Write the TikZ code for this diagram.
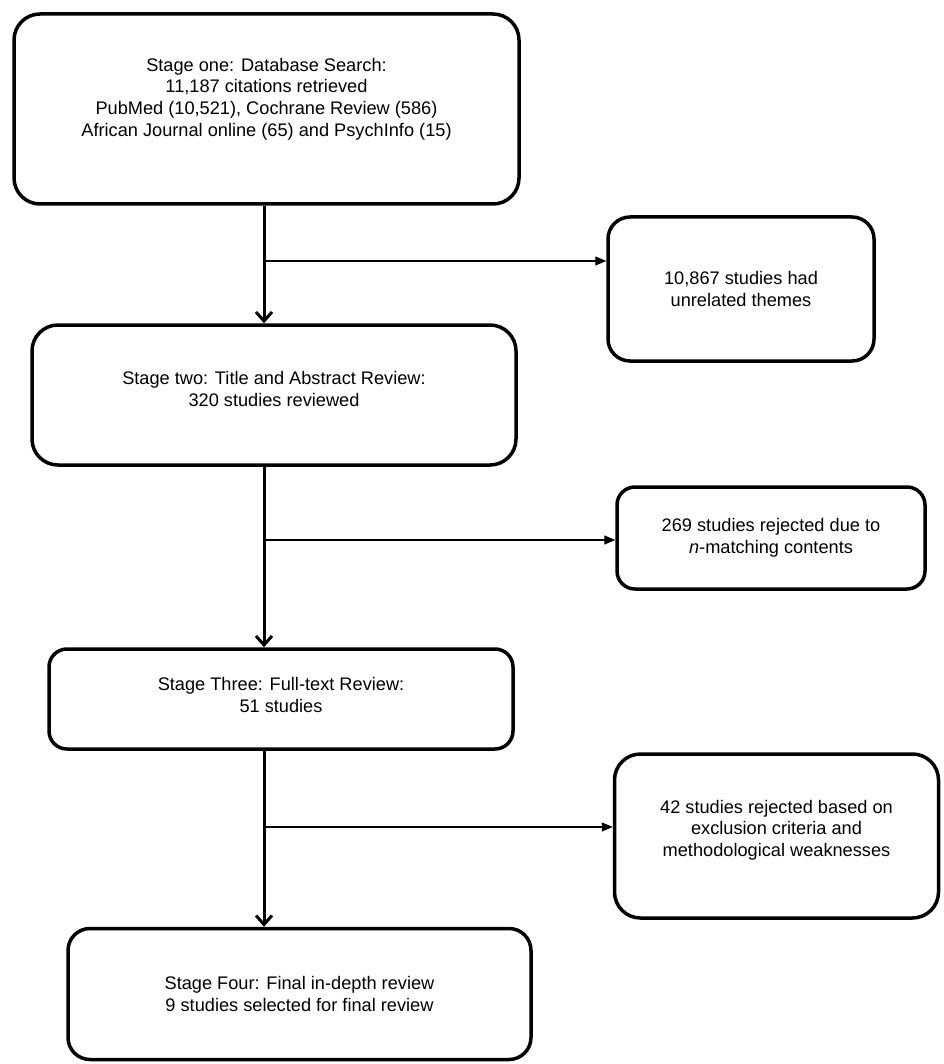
\documentclass[tikz,border=0pt]{standalone}
\usepackage{fontspec}
\setmainfont{Liberation Sans}
\usetikzlibrary{arrows.meta}
\tikzset{
	stagebox/.style={draw,line width=3.5pt,rounded corners=26pt,align=center,font=\fontsize{18.2}{21.7}\selectfont},
	mainarrow/.style={line width=3pt,-{Straight Barb[length=9pt,width=16pt,line width=3pt]}},
	sidearrow/.style={line width=1.3pt,-{Triangle[length=11pt,width=9pt]}}
}

\begin{document}
\begin{tikzpicture}[x=1pt,y=-1pt]
	\useasboundingbox (0,0) rectangle (943,1064);
	\node[stagebox,minimum width=505pt,minimum height=190pt] (s1) at (266.5,109) {Stage one: Database Search:\\11,187 citations retrieved\\PubMed (10,521), Cochrane Review (586)\\African Journal online (65) and PsychInfo (15)\\[2pt]};
	\node[stagebox,minimum width=266pt,minimum height=144pt,rounded corners=22pt] (r1) at (741,289) {10,867 studies had\\unrelated themes};
	\node[stagebox,minimum width=484pt,minimum height=140pt] (s2) at (274,395) {Stage two: Title and Abstract Review:\\320 studies reviewed\\[-10pt]};
	\node[stagebox,minimum width=308pt,minimum height=102pt,rounded corners=18pt] (r2) at (771,538) {269 studies rejected due to\\\textit{n}-matching contents};
	\node[stagebox,minimum width=464pt,minimum height=100pt,rounded corners=18pt] (s3) at (281,699) {Stage Three: Full-text Review:\\51 studies\\[-14pt]};
	\node[stagebox,minimum width=324pt,minimum height=164pt,rounded corners=26pt] (r3) at (776.5,836) {42 studies rejected based on\\exclusion criteria and\\methodological weaknesses\\[-6pt]};
	\node[stagebox,minimum width=463pt,minimum height=131pt,rounded corners=22pt] (s4) at (299.5,994) {Stage Four: Final in-depth review\\9 studies selected for final review};

	\coordinate (j1) at (264,261);
	\coordinate (j2) at (264,540);
	\coordinate (j3) at (264,827);

	\draw[mainarrow] (s1.south -| j1) -- (s2.north -| j1);
	\draw[mainarrow] (s2.south -| j2) -- (s3.north -| j2);
	\draw[mainarrow] (s3.south -| j3) -- (s4.north -| j3);
	\draw[sidearrow] (j1) -- (r1.west |- j1);
	\draw[sidearrow] (j2) -- (r2.west |- j2);
	\draw[sidearrow] (j3) -- (r3.west |- j3);
\end{tikzpicture}
\end{document}
